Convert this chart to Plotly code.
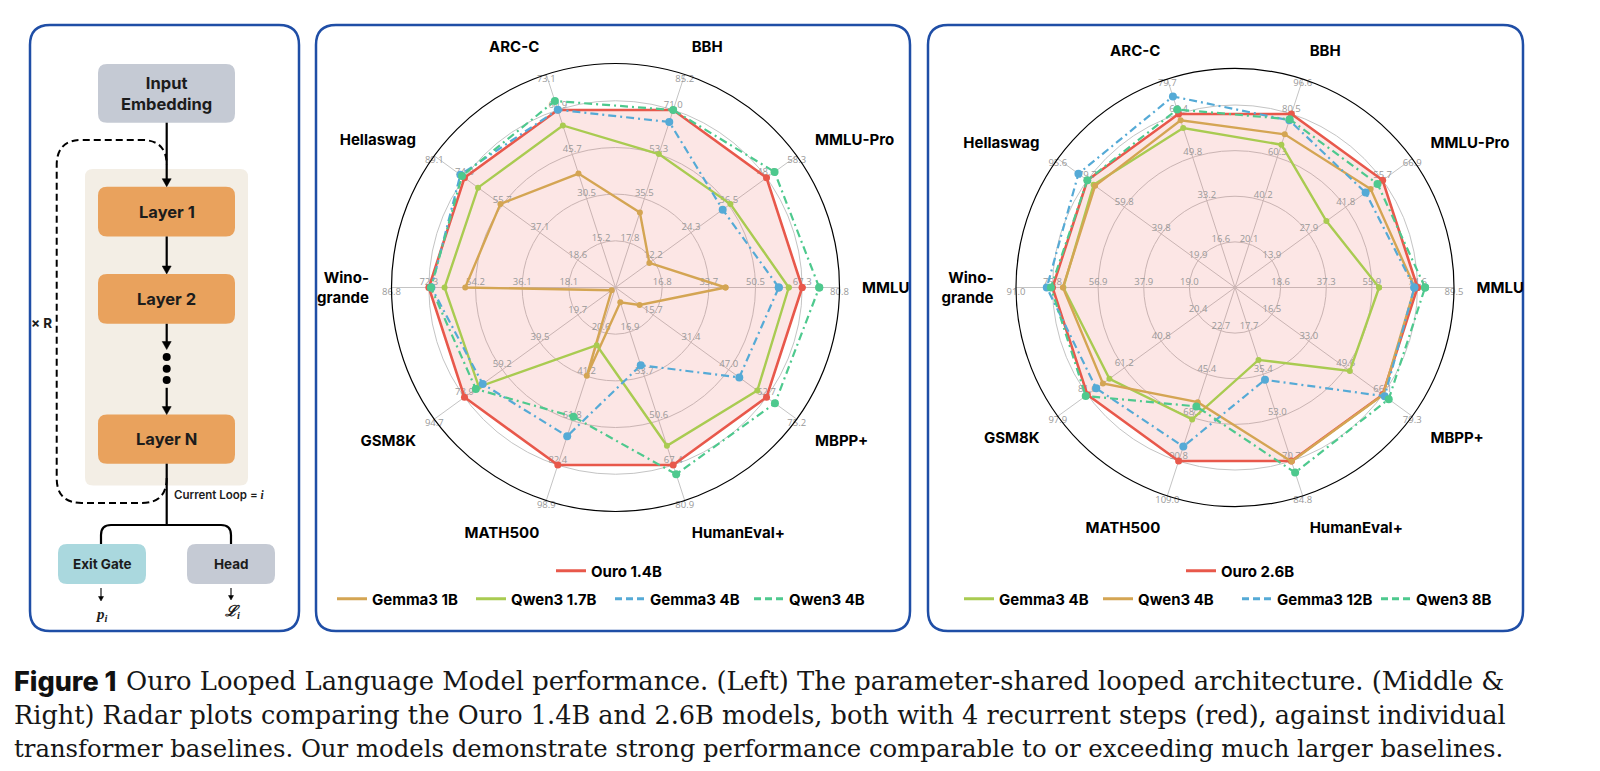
import plotly.graph_objects as go

W, H = 1600, 771

# ---------------- data ----------------
categories = ["MMLU", "MMLU-Pro", "BBH", "ARC-C", "Hellaswag", "Wino-<br>grande",
              "GSM8K", "MATH500", "HumanEval+", "MBPP+"]

# middle radar (Ouro 1.4B)
ouro_14b = [67.34, 48.61, 71.02, 60.92, 74.27, 72.297, 78.92, 82.40, 67.40, 62.704]
gemma3_1b = [39.7, 10.9, 30.0, 39.1, 56.6, 58.2, 2.0, 41.0, 5.6, 10.0]
qwen3_1_7b = [62.5, 37.0, 53.4, 55.6, 67.6, 66.2, 71.4, 26.8, 60.1, 58.9]
gemma3_4b = [58.9, 34.5, 66.2, 61.0, 76.3, 71.3, 69.4, 69.0, 29.5, 51.4]
qwen3_4b = [73.5, 51.2, 71.0, 64.0, 75.5, 71.5, 73.0, 60.0, 70.9, 66.2]

# right radar (Ouro 2.6B)
ouro_26b = [74.60, 55.73, 80.465, 66.41, 79.68, 75.82, 81.60, 90.80, 70.704, 66.08]
gemma3_12b = [73.3, 49.3, 77.5, 73.1, 84.5, 78.2, 76.7, 83.2, 37.6, 67.0]
qwen3_8b = [77.7, 53.8, 78.0, 68.1, 79.7, 76.5, 82.5, 62.2, 75.4, 68.8]

ring_levels = [1, 2, 3, 4]
outer_level = 4.8

caption_lines = [
    "Ouro Looped Language Model performance. (Left) The parameter-shared looped architecture. (Middle &amp;",
    "Right) Radar plots comparing the Ouro 1.4B and 2.6B models, both with 4 recurrent steps (red), against individual",
    "transformer baselines. Our models demonstrate strong performance comparable to or exceeding much larger baselines.",
]

# ---------------- style ----------------
RED = "#e8584b"
PINK = "rgba(238,100,95,0.16)"
GOLD = "#d4a553"
LIME = "#a9cb51"
BLUE = "#55aad6"
TEAL = "#4ec98e"
BORDER = "#1f4ea6"
DASHDOT = "8px,4px,2px,4px"
SANS = "Inter"

fig = go.Figure()
# invisible pixel canvas
fig.add_trace(go.Scatter(x=[0, W], y=[0, H], mode="markers", marker=dict(opacity=0),
                         hoverinfo="skip", showlegend=False))


def add_radar(subplot, ouro, ouro_name, baselines, leg_main, leg_base):
    theta = categories + categories[:1]

    def to_r(vals):
        r = [4 * v / o for v, o in zip(vals, ouro)]
        return r + r[:1]

    r_ouro = to_r(ouro)
    fig.add_trace(go.Scatterpolar(r=r_ouro, theta=theta, subplot=subplot, mode="none",
                                  fill="toself", fillcolor=PINK, showlegend=False,
                                  hoverinfo="skip"))
    # ring value labels
    for k in ring_levels:
        fig.add_trace(go.Scatterpolar(
            r=[k] * len(categories), theta=categories, subplot=subplot, mode="text",
            text=[f"{o * k / 4:.1f}" for o in ouro], textposition="top center",
            textfont=dict(family="Open Sans", size=9.5, color="#999999"),
            showlegend=False, hoverinfo="skip", cliponaxis=False))
    fig.add_trace(go.Scatterpolar(
        r=[outer_level] * len(categories), theta=categories, subplot=subplot, mode="text",
        text=[f"{o * outer_level / 4:.1f}" for o in ouro], textposition="bottom center",
        textfont=dict(family="Open Sans", size=9.5, color="#999999"),
        showlegend=False, hoverinfo="skip", cliponaxis=False))

    fig.add_trace(go.Scatterpolar(r=r_ouro, theta=theta, subplot=subplot, mode="lines+markers",
                                  line=dict(color=RED, width=2.6), marker=dict(color=RED, size=7),
                                  showlegend=False))
    fig.add_trace(go.Scatterpolar(r=[None], theta=[None], subplot=subplot, mode="lines",
                                  line=dict(color=RED, width=3.2), name=ouro_name,
                                  legend=leg_main))
    for name, vals, color, dash in baselines:
        rr = to_r(vals)
        solid = dash == "solid"
        fig.add_trace(go.Scatterpolar(r=rr, theta=theta, subplot=subplot, mode="lines+markers",
                                      line=dict(color=color, width=2.4 if solid else 2.2,
                                                dash="solid" if solid else DASHDOT),
                                      marker=dict(color=color, size=6 if solid else 8),
                                      showlegend=False))
        fig.add_trace(go.Scatterpolar(r=[None], theta=[None], subplot=subplot, mode="lines",
                                      line=dict(color=color, width=3.2,
                                                dash="solid" if solid else "7px,4px"),
                                      name=name, legend=leg_base))


add_radar("polar", ouro_14b, "Ouro 1.4B",
          [("Gemma3 1B", gemma3_1b, GOLD, "solid"),
           ("Qwen3 1.7B", qwen3_1_7b, LIME, "solid"),
           ("Gemma3 4B", gemma3_4b, BLUE, "dash"),
           ("Qwen3 4B", qwen3_4b, TEAL, "dash")],
          "legend", "legend2")
add_radar("polar2", ouro_26b, "Ouro 2.6B",
          [("Gemma3 4B", gemma3_4b, LIME, "solid"),
           ("Qwen3 4B", qwen3_4b, GOLD, "solid"),
           ("Gemma3 12B", gemma3_12b, BLUE, "dash"),
           ("Qwen3 8B", qwen3_8b, TEAL, "dash")],
          "legend3", "legend4")


def polar_layout(cx, cy, R):
    return dict(
        domain=dict(x=[(cx - R) / W, (cx + R) / W], y=[1 - (cy + R) / H, 1 - (cy - R) / H]),
        bgcolor="rgba(0,0,0,0)",
        radialaxis=dict(range=[0, outer_level], tickvals=ring_levels, showticklabels=False,
                        ticks="", gridcolor="#c4c4c4", gridwidth=1, showline=False),
        angularaxis=dict(rotation=0, direction="counterclockwise", type="category",
                         categoryorder="array", categoryarray=categories,
                         gridcolor="#c4c4c4", gridwidth=1, linecolor="black", linewidth=1.2,
                         showline=True, ticks="outside", ticklen=19,
                         tickcolor="rgba(0,0,0,0)",
                         tickfont=dict(family=SANS, size=15, color="black", weight=700)),
    )


def legend_layout(x, y):
    return dict(x=x, y=y, xanchor="left", yanchor="middle", orientation="h",
                bgcolor="rgba(0,0,0,0)", entrywidth=94, entrywidthmode="pixels",
                font=dict(family=SANS, size=15, color="black", weight=700),
                itemclick=False, itemdoubleclick=False)


# ---------------- left diagram + panels ----------------
shapes = []


def rrect_path(x0, y0, x1, y1, r):
    return (f"M{x0 + r},{y0} L{x1 - r},{y0} Q{x1},{y0} {x1},{y0 + r} "
            f"L{x1},{y1 - r} Q{x1},{y1} {x1 - r},{y1} L{x0 + r},{y1} "
            f"Q{x0},{y1} {x0},{y1 - r} L{x0},{y0 + r} Q{x0},{y0} {x0 + r},{y0} Z")


def add_box(x0, y0, x1, y1, r, fill="rgba(0,0,0,0)", line="rgba(0,0,0,0)", width=0):
    shapes.append(dict(type="path", xref="x", yref="y", path=rrect_path(x0, y0, x1, y1, r),
                       fillcolor=fill, line=dict(color=line, width=width), layer="below"))


# panel borders
add_box(30, 25, 299, 631, 20, line=BORDER, width=2.5)
add_box(316, 25, 910, 631, 20, line=BORDER, width=2.5)
add_box(928, 25, 1523, 631, 20, line=BORDER, width=2.5)

CX = 166.7
add_box(85, 169, 248, 485.5, 8, fill="#f3eee5")
add_box(98, 64, 235, 122.7, 9, fill="#c5cad4")
add_box(98, 186.7, 235, 236.5, 9, fill="#e9a25d")
add_box(98, 274, 235, 323.8, 9, fill="#e9a25d")
add_box(98, 414.6, 235, 463.7, 9, fill="#e9a25d")
add_box(58, 544, 146, 584, 9, fill="#aad8de")
add_box(187, 544, 275, 584, 9, fill="#c5cad4")

# dashed recurrence loop
shapes.append(dict(type="path", xref="x", yref="y", layer="above",
                   path=(f"M{CX},478 Q{CX},503 141.7,503 L81.7,503 Q56.7,503 56.7,478 "
                         f"L56.7,165 Q56.7,140 81.7,140 L141.7,140 Q{CX},140 {CX},165"),
                   line=dict(color="black", width=2, dash="7px,4px")))
# trunk below Layer N and branching bracket
shapes.append(dict(type="line", xref="x", yref="y", x0=CX, x1=CX, y0=463.7, y1=525,
                   line=dict(color="black", width=2.2)))
shapes.append(dict(type="path", xref="x", yref="y",
                   path="M101,544 L101,535 Q101,525 111,525 L221,525 Q231,525 231,535 L231,544",
                   line=dict(color="black", width=2.2)))
# dots
for yy in [357, 368.7, 380]:
    shapes.append(dict(type="circle", xref="x", yref="y", x0=CX - 4, x1=CX + 4,
                       y0=yy - 4, y1=yy + 4, fillcolor="black", line=dict(width=0)))


def arrow(x, y0, y1, width=2.2, head=8.0, half=4.5):
    # shaft
    shapes.append(dict(type="line", xref="x", yref="y", x0=x, x1=x, y0=y0, y1=y1 - head + 1,
                       line=dict(color="black", width=width)))
    # arrow head
    shapes.append(dict(type="path", xref="x", yref="y",
                       path=f"M{x - half},{y1 - head} L{x + half},{y1 - head} L{x},{y1} Z",
                       fillcolor="black", line=dict(color="black", width=0.5)))


arrow(CX, 122.7, 186.7)
arrow(CX, 236.5, 274)
arrow(CX, 323.8, 349.5)
arrow(CX, 387.8, 414.6)
arrow(101, 588, 601, width=1.1, head=4.5, half=2.5)
arrow(231, 588, 600, width=1.1, head=4.5, half=2.5)

annotations = []


def text(x, y, s, size, xanchor="center", family=SANS, weight=700, color="#1c1c1c", bg=None):
    d = dict(x=x, y=y, xref="x", yref="y", text=s, showarrow=False, xanchor=xanchor,
             yanchor="middle", font=dict(family=family, size=size, color=color, weight=weight))
    if bg:
        d["bgcolor"] = bg
    annotations.append(d)


text(CX, 93.3, "Input<br>Embedding", 16.5)
text(CX, 211.6, "Layer 1", 16.5)
text(CX, 299, "Layer 2", 16.5)
text(CX, 439, "Layer N", 16.5)
text(54, 323, "× R", 13.5, xanchor="right")
text(171.5, 495, "Current Loop = <span style='font-family:Liberation Serif'><i>i</i></span>",
     11.5, xanchor="left", weight=600)
text(102, 564, "Exit Gate", 13.5)
text(231, 564, "Head", 13.5)
text(101, 615, "<b><i>p</i></b><sub><i>i</i></sub>", 15, family="Liberation Serif")
text(232, 612, "<b><i>ℒ</i></b><sub><i>i</i></sub>", 15, family="Liberation Serif")

# caption
text(12, 681, "Figure 1", 27, xanchor="left", weight=800, color="#111")
cap_y = [681, 715, 748]
cap_x = [124, 12, 12]
cap_size = [25.8, 25.55, 24.35]
for s, yy, xx, fs in zip(caption_lines, cap_y, cap_x, cap_size):
    text(xx, yy, s, fs, xanchor="left", family="DejaVu Serif", weight=400, color="#161616")

fig.update_layout(
    width=W, height=H, margin=dict(l=0, r=0, t=0, b=0),
    paper_bgcolor="white", plot_bgcolor="rgba(0,0,0,0)",
    xaxis=dict(range=[0, W], visible=False, fixedrange=True, domain=[0, 1]),
    yaxis=dict(range=[H, 0], visible=False, fixedrange=True, domain=[0, 1]),
    polar=polar_layout(615.5, 287.5, 224),
    polar2=polar_layout(1235, 287.5, 219),
    legend=legend_layout((563 - 12) / W, 1 - 571 / H),
    legend2=legend_layout((344 - 12) / W, 1 - 599 / H),
    legend3=legend_layout((1193 - 12) / W, 1 - 571 / H),
    legend4=legend_layout((971 - 12) / W, 1 - 599 / H),
    shapes=shapes, annotations=annotations, showlegend=True,
)

fig.write_html("out.html", config={"displayModeBar": False},
               post_script="document.body.style.margin='0';document.body.style.overflow='hidden';")
